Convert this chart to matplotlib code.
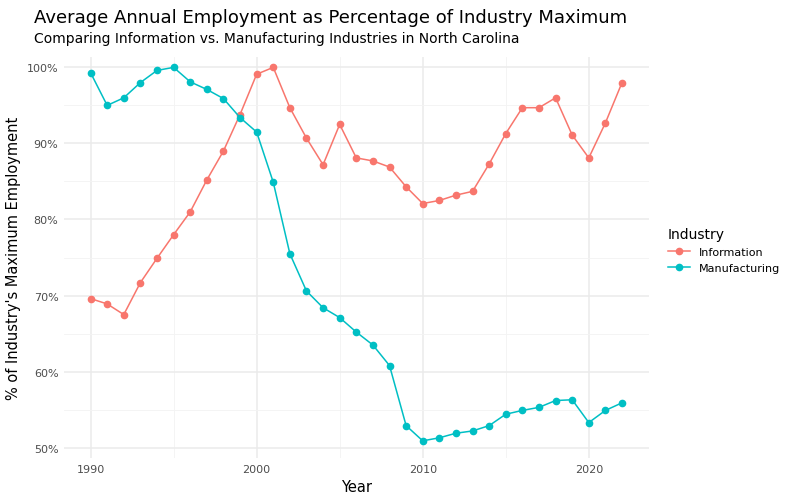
import matplotlib
matplotlib.use("Agg")
import matplotlib.pyplot as plt
from matplotlib.ticker import FixedLocator

years = list(range(1990, 2023))
information = [69.6,68.9,67.5,71.7,74.9,78.0,81.0,85.2,89.0,93.8,99.1,100,94.7,90.7,87.2,92.5,88.1,87.7,86.9,84.3,82.1,82.5,83.2,83.7,87.3,91.3,94.7,94.7,96.0,91.1,88.1,92.7,98.0]
manufacturing = [99.3,95.0,96.0,98.0,99.6,100,98.1,97.1,95.9,93.4,91.5,84.9,75.5,70.6,68.4,67.1,65.2,63.5,60.8,52.9,50.9,51.3,51.9,52.2,52.9,54.4,54.9,55.3,56.2,56.3,53.3,54.9,55.9]
x_ticks = [1990, 2000, 2010, 2020]
y_ticks = [50, 60, 70, 80, 90, 100]

fig = plt.figure(figsize=(7.9, 5.02), dpi=100)
ax = fig.add_axes([0.081, 0.085, 0.740, 0.80])
for s in ax.spines.values():
    s.set_visible(False)
ax.set_xlim(1988.4, 2023.6)
ax.set_ylim(48.6, 101.4)
ax.xaxis.set_major_locator(FixedLocator(x_ticks))
ax.yaxis.set_major_locator(FixedLocator(y_ticks))
ax.xaxis.set_minor_locator(FixedLocator([1995, 2005, 2015]))
ax.yaxis.set_minor_locator(FixedLocator([55, 65, 75, 85, 95]))
ax.grid(which="major", color="#ebebeb", lw=1.1)
ax.grid(which="minor", color="#f3f3f3", lw=0.6)
ax.set_axisbelow(True)
ax.tick_params(which="both", length=0, labelsize=8, colors="#4d4d4d", pad=4)
ax.set_yticklabels([f"{v}%" for v in y_ticks])
ax.plot(years, information, color="#F8766D", marker="o", ms=4.5, lw=1.1, label="Information")
ax.plot(years, manufacturing, color="#00BFC4", marker="o", ms=4.5, lw=1.1, label="Manufacturing")
ax.set_xlabel("Year", fontsize=10.5)
ax.set_ylabel("% of Industry's Maximum Employment", fontsize=10.5)
fig.text(0.043, 0.955, "Average Annual Employment as Percentage of Industry Maximum", fontsize=13)
fig.text(0.043, 0.915, "Comparing Information vs. Manufacturing Industries in North Carolina", fontsize=10)
leg = fig.legend(loc="center left", bbox_to_anchor=(0.833, 0.5), frameon=False, title="Industry",
                 fontsize=8, title_fontsize=10)
leg._legend_box.align = "left"
fig.savefig("out.png", dpi=100)
